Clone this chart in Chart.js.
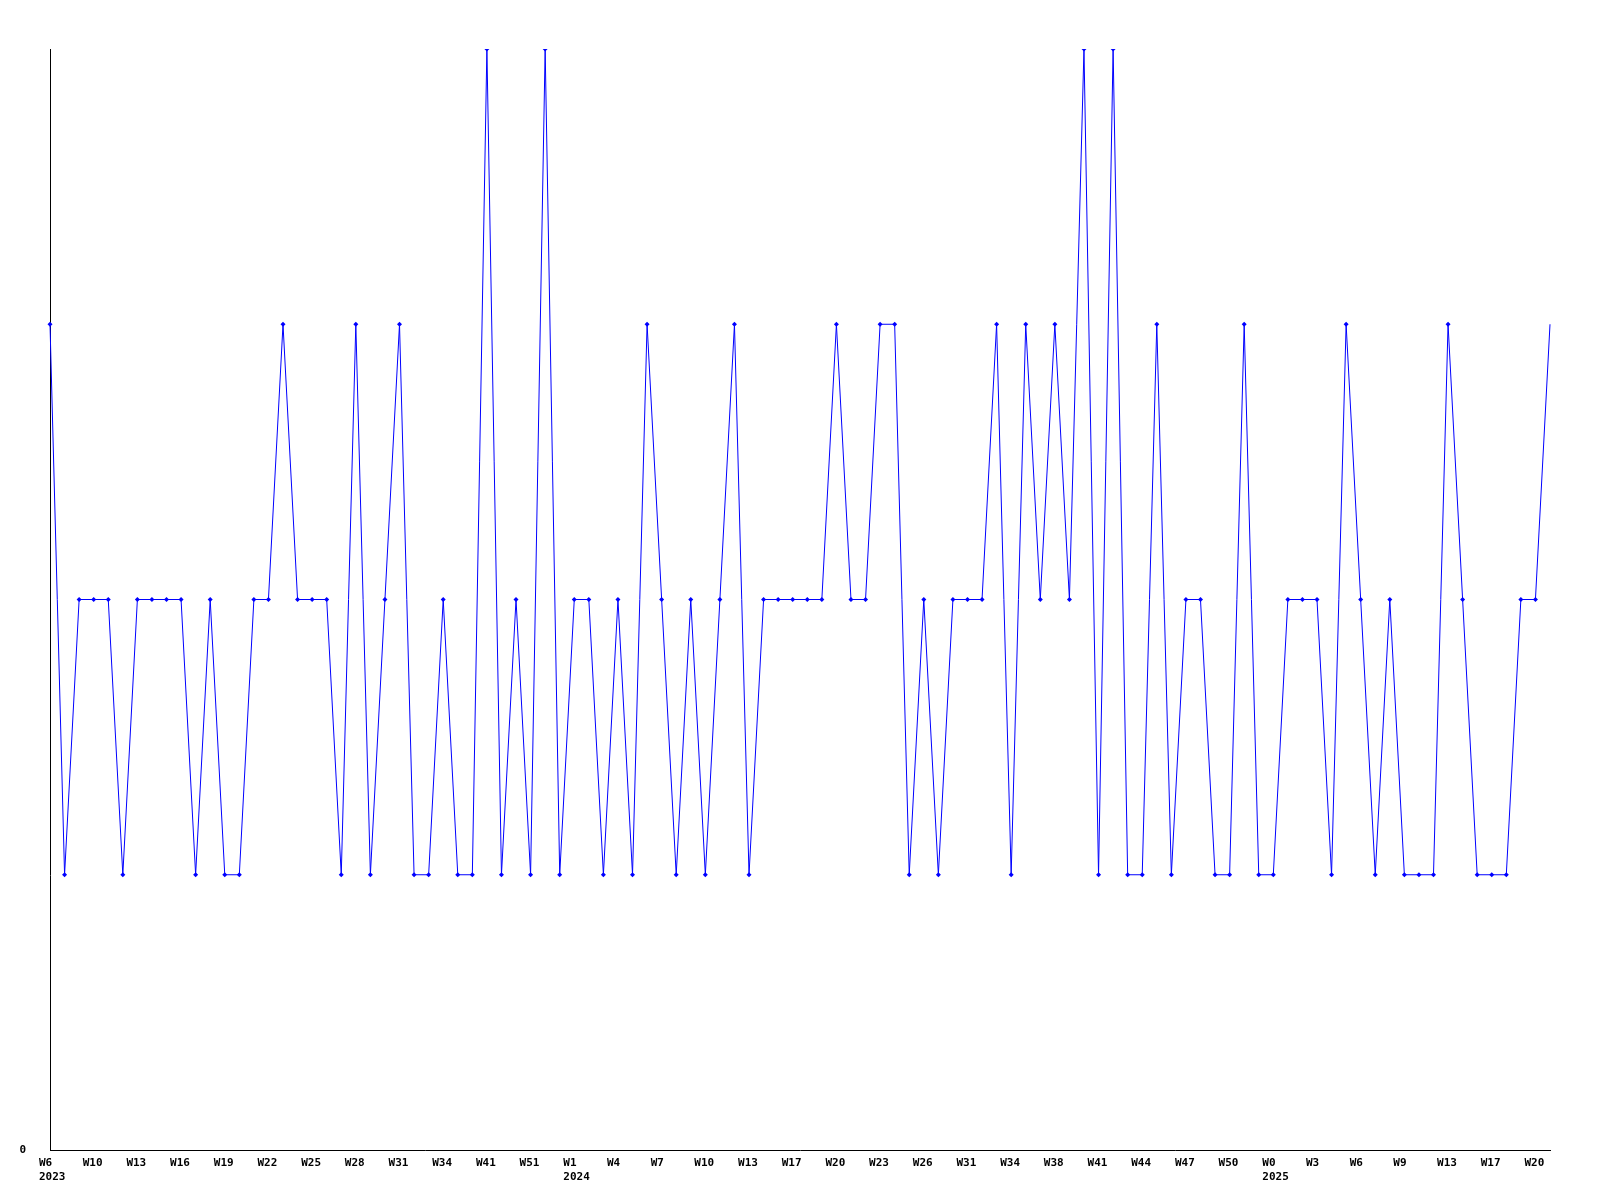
<!DOCTYPE html>
<html>
<head>
<meta charset="utf-8">
<script src="https://cdn.jsdelivr.net/npm/chart.js@4/dist/chart.umd.min.js"></script>
<style>
  body { margin: 0; background: #fff; }
</style>
</head>
<body>
<canvas id="chart" width="1600" height="1200"></canvas>
<script>
// weekly values, one per point
const values = [
    3, 1, 2, 2, 2, 1, 2, 2, 2, 2,
    1, 2, 1, 1, 2, 2, 3, 2, 2, 2,
    1, 3, 1, 2, 3, 1, 1, 2, 1, 1,
    4, 1, 2, 1, 4, 1, 2, 2, 1, 2,
    1, 3, 2, 1, 2, 1, 2, 3, 1, 2,
    2, 2, 2, 2, 3, 2, 2, 3, 3, 1,
    2, 1, 2, 2, 2, 3, 1, 3, 2, 3,
    2, 4, 1, 4, 1, 1, 3, 1, 2, 2,
    1, 1, 3, 1, 1, 2, 2, 2, 1, 3,
    2, 1, 2, 1, 1, 1, 3, 2, 1, 1,
    1, 2, 2, 3
];

// one label every 3rd point
const tickLabels = [
    'W6', 'W10', 'W13', 'W16', 'W19', 'W22', 'W25', 'W28', 'W31', 'W34',
    'W41', 'W51', 'W1', 'W4', 'W7', 'W10', 'W13', 'W17', 'W20', 'W23',
    'W26', 'W31', 'W34', 'W38', 'W41', 'W44', 'W47', 'W50', 'W0', 'W3',
    'W6', 'W9', 'W13', 'W17', 'W20'
];
const tickStep = 3;

// year shown under these tick labels
const yearTicks = [0, 12, 28];
const years = ['2023', '2024', '2025'];

const labels = values.map((v, i) => {
    if (i % tickStep !== 0) return '';
    const t = i / tickStep;
    const y = yearTicks.indexOf(t);
    return y >= 0 ? [tickLabels[t], years[y]] : tickLabels[t];
});

const font = { family: 'DejaVu Sans Mono', size: 11, weight: 'bold' };
const lastIdx = values.length - 1;

const ctx = document.getElementById('chart').getContext('2d');
const myChart = new Chart(ctx, {
    type: 'line',
    data: {
        labels: labels,
        datasets: [{
            data: values,
            borderColor: '#0000ff',
            backgroundColor: '#0000ff',
            borderWidth: 1,
            tension: 0,
            pointStyle: 'rectRot',
            pointRadius: c => c.dataIndex === lastIdx ? 0 : 2.5,
            pointBorderWidth: 0,
            pointBackgroundColor: '#0000ff'
        }]
    },
    options: {
        responsive: false,
        animation: false,
        layout: { padding: { top: 49, right: 50, left: 0, bottom: 0 } },
        plugins: { legend: { display: false }, tooltip: { enabled: false } },
        scales: {
            x: {
                offset: false,
                grid: { display: false, drawTicks: false },
                border: { display: true, color: '#000', width: 1 },
                ticks: {
                    autoSkip: false,
                    maxRotation: 0,
                    minRotation: 0,
                    align: 'start',
                    labelOffset: -11,
                    padding: 7,
                    color: '#000',
                    font: font
                },
                afterFit: s => { s.height = 50; }
            },
            y: {
                min: 0,
                max: 4,
                grid: { display: false, drawTicks: false },
                border: { display: true, color: '#000', width: 1 },
                ticks: {
                    stepSize: 1,
                    padding: 24,
                    color: '#000',
                    font: font,
                    callback: v => v === 0 ? '0' : ''
                },
                afterFit: s => { s.width = 50; }
            }
        }
    }
});
</script>
</body>
</html>
